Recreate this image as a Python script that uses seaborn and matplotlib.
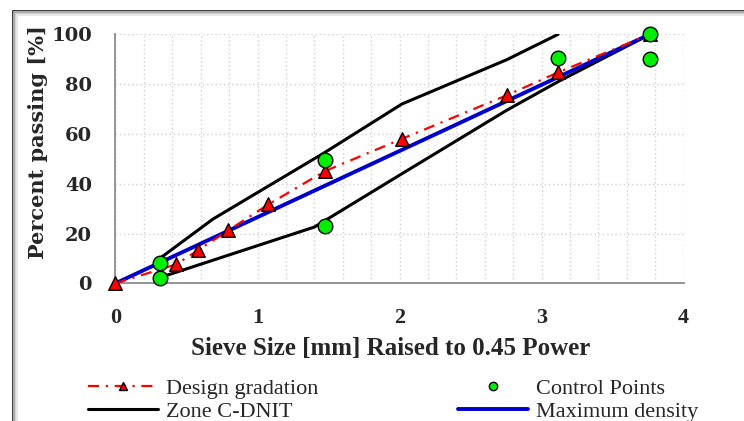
import numpy as np
import pandas as pd
import seaborn as sns
import matplotlib.pyplot as plt
from matplotlib.lines import Line2D

# Sieve sizes raised to 0.45 power
design_x = [0, 0.426, 0.582, 0.795, 1.077, 1.472, 2.016, 2.754, 3.116, 3.762]
design_y = [0, 7.6, 13.3, 21.3, 31.7, 45.0, 58.0, 75.5, 84.7, 100]

control_x = [0.312, 0.312, 1.472, 1.472, 3.116, 3.762, 3.762]
control_y = [2.3, 8.0, 23.0, 49.4, 90.3, 100, 90.0]

zone_upper_x = [0.312, 0.686, 1.472, 2.016, 2.754, 3.116]
zone_upper_y = [10.0, 25.8, 52.5, 72.0, 89.8, 100]
zone_lower_x = [0.312, 1.40, 2.016, 2.754, 3.116, 3.762]
zone_lower_y = [2.3, 22.6, 44.0, 69.5, 81.0, 100]

maxden_x = [0, 3.762]
maxden_y = [0, 100]

x_ticks = [0, 1, 2, 3, 4]
y_ticks = [0, 20, 40, 60, 80, 100]

sns.set_theme(style="white")
plt.rcParams['font.family'] = ['Liberation Serif', 'DejaVu Serif']

fig = plt.figure(figsize=(7.44, 4.21), dpi=100)
ax = fig.add_axes([0.1552, 0.327, 0.919 - 0.1552, 0.9185 - 0.327])

# Zone lines
sns.lineplot(x=zone_upper_x, y=zone_upper_y, color="black", lw=2.2, sort=False,
             estimator=None, ax=ax, zorder=2)
sns.lineplot(x=zone_lower_x, y=zone_lower_y, color="black", lw=2.2, sort=False,
             estimator=None, ax=ax, zorder=2)

# Maximum density line
sns.lineplot(x=maxden_x, y=maxden_y, color="#0000cc", lw=2.8, sort=False,
             estimator=None, ax=ax, zorder=3)

# Design gradation
sns.lineplot(x=design_x, y=design_y, color="red", lw=1.6, sort=False, estimator=None,
             linestyle=(0, (5, 3, 1, 3)), ax=ax, zorder=4)
sns.scatterplot(x=design_x, y=design_y, marker="^", s=95, color="red",
                edgecolor="black", linewidth=1.0, ax=ax, zorder=5, clip_on=False)

# Control points
sns.scatterplot(x=control_x, y=control_y, marker="o", s=110, color="#00ee00",
                edgecolor="black", linewidth=1.0, ax=ax, zorder=6, clip_on=False)

ax.set_xlim(0, 4)
ax.set_ylim(0, 100)
ax.set_xticks(x_ticks)
ax.set_yticks(y_ticks)
ax.set_xticks(np.arange(0, 4.01, 0.2), minor=True)
ax.grid(True, which="both", axis="x", color="#d0d0d0", linestyle=(0, (1, 2)), lw=1.0)
ax.grid(True, which="major", axis="y", color="#d0d0d0", linestyle=(0, (1, 2)), lw=1.0)
ax.set_axisbelow(True)

for side in ["top", "right"]:
    ax.spines[side].set_visible(False)
for side in ["left", "bottom"]:
    ax.spines[side].set_color("#8c8c8c")
    ax.spines[side].set_linewidth(1.3)

ax.tick_params(axis="x", which="major", direction="in", length=7, width=1.3,
               color="#8c8c8c", pad=18, labelsize=16)
ax.tick_params(axis="x", which="minor", length=0)
ax.tick_params(axis="y", length=0, pad=17, labelsize=14)
for lab in ax.get_xticklabels():
    lab.set_fontweight("bold")
for lab in ax.get_yticklabels():
    lab.set_fontweight("bold")
    lab.set_family("DejaVu Serif")

ax.set_xlabel("Sieve Size [mm] Raised to 0.45 Power", fontsize=18, fontweight="bold")
ax.set_ylabel("Percent passing [%]", fontsize=15, fontweight="bold",
              family="DejaVu Serif")
ax.xaxis.set_label_coords(0.485, -0.215)
ax.yaxis.set_label_coords(-0.118, 0.567)

# Legend (row-wise: design / control, zone / max density)
handles = [
    Line2D([], [], color="red", lw=1.6, linestyle=(0, (5, 3, 1, 3)), marker="^",
           markersize=5.5, markerfacecolor="red", markeredgecolor="black"),
    Line2D([], [], color="black", lw=2.2),
    Line2D([], [], linestyle="none", marker="o", markersize=6,
           markerfacecolor="#00ee00", markeredgecolor="black"),
    Line2D([], [], color="#0000cc", lw=2.8),
]
labels = ["Design gradation", "Zone C-DNIT", "Control Points", "Maximum density"]
fig.legend(handles, labels, loc="upper left", bbox_to_anchor=(0.118, 0.101),
           ncol=2, frameon=False, fontsize=16, handlelength=3.15, handletextpad=0.36,
           columnspacing=6.3, labelspacing=0.1, borderpad=0, borderaxespad=0)

# Outer frame with soft shadow (top and left edges visible)
for i, (c, w) in enumerate([("#222222", 2.0), ("#aaaaaa", 1.5), ("#d0d0d0", 1.5),
                            ("#e8e8e8", 1.5)]):
    off_y = (10.5 + i * 1.5) / 421
    off_x = (12.5 + i * 1.5) / 744
    fig.add_artist(Line2D([off_x, 1.0], [1 - off_y, 1 - off_y], color=c, lw=w,
                          transform=fig.transFigure))
    fig.add_artist(Line2D([off_x, off_x], [0, 1 - off_y], color=c, lw=w,
                          transform=fig.transFigure))

fig.savefig("out.png", dpi=100)
